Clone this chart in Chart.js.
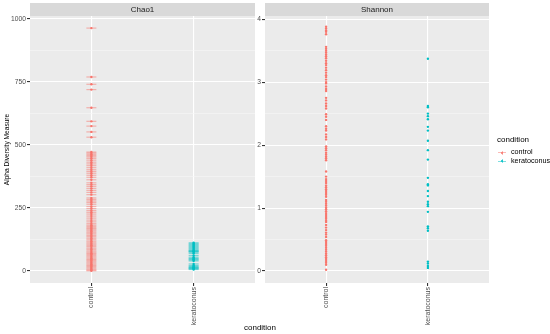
<!DOCTYPE html>
<html><head><meta charset="utf-8">
<script src="https://cdn.jsdelivr.net/npm/chart.js@4"></script>
<style>
html,body{margin:0;padding:0;background:#fff;}
#wrap{position:relative;width:550px;height:334px;overflow:hidden;font-family:"Liberation Sans",Arial,sans-serif;}
canvas{position:absolute;top:0;}
#c1{left:0;}
#c2{left:240px;}
#xtitle{position:absolute;left:230px;width:60px;top:323px;text-align:center;font-size:8px;color:#000;}
#legend{position:absolute;left:497px;top:134px;font-size:7.2px;color:#000;}
#legend .t{font-size:8px;height:12px;line-height:12px;margin-bottom:2px;}
#legend .row{position:relative;height:8.5px;line-height:8.5px;}
#legend .key{position:absolute;left:0;top:0;width:10px;height:8.5px;}
#legend .key .h{position:absolute;left:1px;top:4px;width:8px;height:1px;}
#legend .key .v{position:absolute;left:4.5px;top:2.5px;width:1px;height:4px;}
#legend .key .d{position:absolute;left:4px;top:3.5px;width:2px;height:2px;border-radius:1px;}
#legend .lab{position:absolute;left:14px;top:0;white-space:nowrap;}
</style></head>
<body>
<div id="wrap">
<canvas id="c1" width="275" height="334"></canvas>
<canvas id="c2" width="275" height="334"></canvas>
<div id="xtitle">condition</div>
<div id="legend">
  <div class="t">condition</div>
  <div class="row"><div class="key"><div class="h" style="background:rgba(248,118,109,0.5)"></div><div class="v" style="background:rgba(248,118,109,0.5)"></div><div class="d" style="background:#F8766D"></div></div><div class="lab">control</div></div>
  <div class="row"><div class="key"><div class="h" style="background:rgba(0,191,196,0.5)"></div><div class="v" style="background:rgba(0,191,196,0.5)"></div><div class="d" style="background:#00BFC4"></div></div><div class="lab">keratoconus</div></div>
</div>
</div>
<script>
const categories = ['control', 'keratoconus'];
const panels = ['Chao1', 'Shannon'];
const chao1Control = [964, 770, 741, 720, 648, 594, 575, 552, 531, 472, 468, 463, 458, 453, 447, 440, 432, 425, 418, 410, 402, 395, 388, 380, 372, 362, 350, 343, 336, 328, 320, 312, 303, 290, 284, 278, 272, 265, 256, 248, 240, 233, 226, 218, 210, 202, 195, 188, 182, 177, 172, 168, 163, 158, 152, 147, 141, 136, 130, 124, 118, 112, 107, 102, 97, 91, 86, 80, 75, 70, 66, 61, 56, 51, 46, 42, 37, 32, 27, 22, 18, 13, 8, 4, 1];
const chao1Kerato = [112, 108, 104, 100, 96, 92, 88, 84, 81, 79, 77, 75, 70, 62, 55, 50, 47, 44, 40, 28, 22, 18, 15, 13, 11, 9, 6];
const shannonControl = [3.88, 3.85, 3.82, 3.80, 3.76, 3.56, 3.53, 3.50, 3.47, 3.44, 3.41, 3.38, 3.34, 3.30, 3.27, 3.23, 3.19, 3.15, 3.11, 3.08, 3.04, 3.00, 2.98, 2.93, 2.89, 2.86, 2.75, 2.71, 2.66, 2.62, 2.58, 2.49, 2.45, 2.40, 2.30, 2.26, 2.23, 2.17, 2.13, 2.09, 1.98, 1.95, 1.92, 1.88, 1.85, 1.82, 1.79, 1.76, 1.58, 1.50, 1.46, 1.43, 1.40, 1.36, 1.33, 1.30, 1.27, 1.24, 1.21, 1.18, 1.13, 1.10, 1.07, 1.04, 1.01, 0.98, 0.95, 0.92, 0.89, 0.86, 0.83, 0.80, 0.78, 0.73, 0.69, 0.65, 0.61, 0.58, 0.54, 0.49, 0.46, 0.43, 0.40, 0.37, 0.34, 0.31, 0.28, 0.25, 0.22, 0.19, 0.16, 0.13, 0.10, 0.02];
const shannonKerato = [3.37, 2.62, 2.60, 2.50, 2.46, 2.41, 2.29, 2.23, 2.07, 1.92, 1.77, 1.48, 1.38, 1.36, 1.27, 1.19, 1.10, 1.06, 1.03, 0.94, 0.71, 0.68, 0.64, 0.15, 0.12, 0.08, 0.05];
const chao1Ticks = [0, 250, 500, 750, 1000];
const shannonTicks = [0, 1, 2, 3, 4];

const RED = '#F8766D', TEAL = '#00BFC4';
const FONT = '"Liberation Sans", Arial, sans-serif';

function withMinor(major) {
  const out = [];
  for (let i = 0; i < major.length; i++) {
    out.push(major[i]);
    if (i < major.length - 1) out.push((major[i] + major[i + 1]) / 2);
  }
  return out;
}

const panelPlugin = {
  id: 'panelBg',
  beforeDraw(chart) {
    const a = chart.chartArea, ctx = chart.ctx;
    ctx.save();
    ctx.fillStyle = '#EBEBEB';
    ctx.fillRect(a.left, a.top, a.right - a.left, a.bottom - a.top);
    ctx.fillStyle = '#D9D9D9';
    ctx.fillRect(a.left, 3, a.right - a.left, a.top - 3);
    ctx.restore();
  }
};

function pts(cat, arr) { return arr.map(v => ({x: categories.indexOf(cat) + 1, y: v})); }

function makeChart(id, title, datasets, ticks, ymin, ymax, yWidth, yTitle, targetRight) {
  const allTicks = withMinor(ticks);
  const chart = new Chart(document.getElementById(id), {
    type: 'scatter',
    data: {datasets},
    plugins: [panelPlugin],
    options: {
      responsive: false,
      animation: false,
      layout: {padding: {left: 0, right: 10, top: 0, bottom: 0}},
      plugins: {
        legend: {display: false},
        tooltip: {enabled: false},
        title: {display: true, text: title, fullSize: false, color: '#1A1A1A',
          font: {family: FONT, size: 8, lineHeight: 1.2, weight: 'normal'},
          padding: {top: 5, bottom: 1.4}}
      },
      scales: {
        x: {
          type: 'linear', min: 0.4, max: 2.6,
          afterBuildTicks: s => { s.ticks = categories.map((c, i) => ({value: i + 1})); },
          afterFit: s => { s.height = 51; s.paddingLeft = 0; s.paddingRight = 0; },
          border: {display: false},
          grid: {color: '#FFFFFF', lineWidth: 1.1, tickColor: '#333333', tickLength: 3, drawTicks: true},
          ticks: {autoSkip: false, maxRotation: 90, minRotation: 90, padding: 1, color: '#4D4D4D',
            font: {family: FONT, size: 7},
            callback: v => categories[Math.round(v) - 1]}
        },
        y: {
          type: 'linear', min: ymin, max: ymax,
          afterBuildTicks: s => { s.ticks = allTicks.map(v => ({value: v})); },
          afterFit: s => { s.width = yWidth; },
          border: {display: false},
          title: yTitle ? {display: true, text: yTitle, color: '#000', font: {family: FONT, size: 6.6}, padding: {top: 3, bottom: 0}} : {display: false},
          grid: {
            color: c => (ticks.includes(c.tick && c.tick.value) ? '#FFFFFF' : '#F6F6F6'),
            lineWidth: c => (ticks.includes(c.tick && c.tick.value) ? 1.1 : 0.6),
            tickColor: c => (ticks.includes(c.tick && c.tick.value) ? '#333333' : 'rgba(0,0,0,0)'),
            tickLength: 3, drawTicks: true
          },
          ticks: {autoSkip: false, padding: 1, color: '#4D4D4D', font: {family: FONT, size: 6.7},
            callback: v => (ticks.includes(v) ? String(v) : '')}
        }
      }
    }
  });
  // correct right padding so the panel ends where the reference panel ends
  for (let k = 0; k < 3; k++) {
    const diff = chart.chartArea.right - targetRight;
    if (Math.abs(diff) < 0.2) break;
    chart.options.layout.padding.right = Math.max(0, chart.options.layout.padding.right + diff);
    chart.update('none');
  }
  return chart;
}

function capSet(data, color) {
  return {data, pointStyle: 'line', pointRadius: 5, pointBorderWidth: 1.2,
    pointBorderColor: color, pointBackgroundColor: color, showLine: false};
}
function dotSet(data, color, r) {
  return {data, pointStyle: 'circle', pointRadius: r, pointBorderWidth: 0,
    pointBackgroundColor: color, pointBorderColor: color, showLine: false};
}

makeChart('c1', panels[0], [
  capSet(pts('control', chao1Control), 'rgba(248,118,109,0.5)'),
  capSet(pts('keratoconus', chao1Kerato), 'rgba(0,191,196,0.5)'),
  dotSet(pts('control', chao1Control), RED, 1.2),
  dotSet(pts('keratoconus', chao1Kerato), TEAL, 1.2)
], chao1Ticks, -47.6, 1012, 30, 'Alpha Diversity Measure', 255);

makeChart('c2', panels[1], [
  dotSet(pts('control', shannonControl), RED, 1.2),
  dotSet(pts('keratoconus', shannonKerato), TEAL, 1.2)
], shannonTicks, -0.19, 4.05, 25, null, 489 - 240);
</script>
</body></html>
